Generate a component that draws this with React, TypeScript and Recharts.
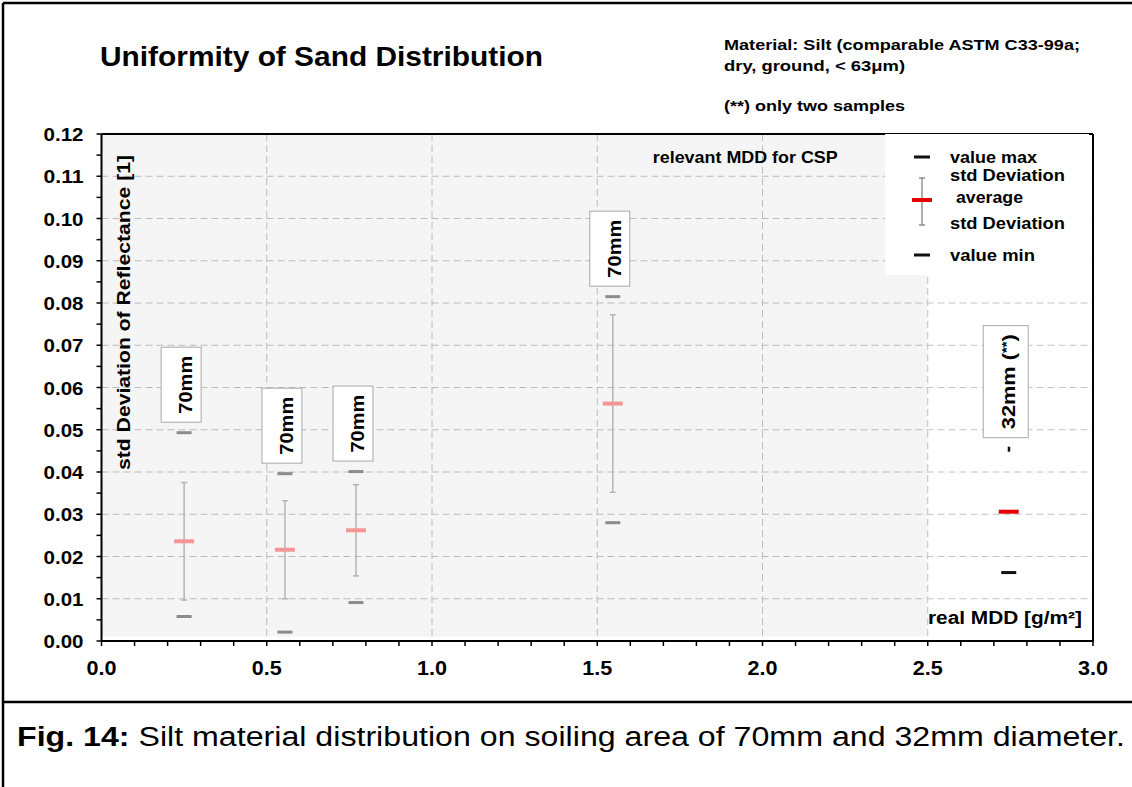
import React from "react";
import {
  CartesianGrid, ComposedChart, ErrorBar, Legend, ReferenceArea, ReferenceLine,
  Scatter, XAxis, YAxis,
} from "recharts";

const FONT = "'Liberation Sans', Arial, Helvetica, sans-serif";

// real MDD [g/m²] of each soiling run
const mdd = [0.25, 0.555, 0.77, 1.547, 2.745];
const valueMax = [0.0493, 0.0396, 0.0401, 0.0815, 0.0454];
const average = [0.0236, 0.0216, 0.0262, 0.0562, 0.0306];
const stdDev = [0.0139, 0.0116, 0.0108, 0.021, null];
const valueMin = [0.0058, 0.0021, 0.0091, 0.028, 0.0162];
const areaLabels = ["70mm", "70mm", "70mm", "70mm", "32mm"];
const twoSamples = [false, false, false, false, true];

const xMajor = [0, 0.5, 1, 1.5, 2, 2.5, 3];
const yMajor = [0, 0.01, 0.02, 0.03, 0.04, 0.05, 0.06, 0.07, 0.08, 0.09, 0.1, 0.11, 0.12];
const xGrid = xMajor.slice(1, -1);
const yGrid = yMajor.slice(1, -1);

// minor ticks: 0.1 on x, half steps on y
const xTicks = Array.from({ length: 31 }, (_, i) => Number((i * 0.1).toFixed(1)));
const yTicks = Array.from({ length: 25 }, (_, i) => Number((i * 0.005).toFixed(3)));

const rows = mdd.map((x, i) => ({
  x, max: valueMax[i], avg: average[i], std: stdDev[i], min: valueMin[i],
  label: areaLabels[i], two: twoSamples[i],
}));
const maxPts = rows.map((r) => ({ ...r, y: r.max }));
const minPts = rows.map((r) => ({ ...r, y: r.min }));
const avgPts = rows.map((r) => ({ ...r, y: r.avg }));
const errPts = rows.filter((r) => r.std != null).map((r) => ({ x: r.x, y: r.avg, err: r.std }));

const GREY = "#8c8c8c";
const PINK = "#f59595";
const ERR = "#b4b4b4";
const DARK = "#111111";
const RED = "#e60000";

function Txt({ x, y, w, size, bold = true, anchor = "start", rotate, children }: any) {
  return (
    <text
      x={x} y={y} fontFamily={FONT} fontSize={size} fontWeight={bold ? 700 : 400}
      textAnchor={anchor} textLength={w} lengthAdjust="spacingAndGlyphs" fill="#000"
      transform={rotate ? `rotate(${rotate} ${x} ${y})` : undefined}
    >
      {children}
    </text>
  );
}

const isMajor = (v: number, step: number) => Math.abs(v / step - Math.round(v / step)) < 1e-6;

const YTick = (p: any) => {
  const v = p.payload.value;
  if (!isMajor(v, 0.01)) return <g />;
  return <Txt x={p.x - 11} y={p.y + 7} size={19} w={40} anchor="end">{v.toFixed(2)}</Txt>;
};

const XTick = (p: any) => {
  const v = p.payload.value;
  if (!isMajor(v, 0.5)) return <g />;
  return <Txt x={p.x} y={p.y + 27} size={20} w={30} anchor="middle">{v.toFixed(1)}</Txt>;
};

const MaxShape = (p: any) => {
  const { cx, cy, payload } = p;
  const two = payload.two;
  const textLen = two ? 95 : 58;
  const boxH = textLen + 17;
  const boxW = two ? 45 : 40;
  const markTop = two ? cy - 2.5 : cy - 1.5;
  const bx = cx - 3 - boxW / 2;
  const by = markTop - 9 - boxH;
  const tx = bx + boxW / 2 + (two ? 9 : 11);
  const ty = by + boxH / 2;
  return (
    <g>
      {two
        ? <rect x={cx - 1} y={cy - 2.5} width={2.5} height={5} fill={DARK} />
        : <rect x={cx - 7.5} y={cy - 1.5} width={15} height={3} fill={GREY} />}
      <rect x={bx} y={by} width={boxW} height={boxH} fill="#fff" stroke="#a8a8a8" strokeWidth={1} />
      <Txt x={tx} y={ty} size={19} w={textLen} anchor="middle" rotate={-90}>
        {payload.label}
        {two ? " (" : ""}
        {two ? <tspan fontSize={13} dy={-4}>**</tspan> : null}
        {two ? <tspan dy={4}>)</tspan> : null}
      </Txt>
    </g>
  );
};

const MinShape = (p: any) => (
  <rect x={p.cx - 7.5} y={p.cy - 1.5} width={15} height={3} fill={p.payload.two ? DARK : GREY} />
);

const AvgShape = (p: any) => (
  <rect x={p.cx - 10} y={p.cy - 2} width={20} height={4} fill={p.payload.two ? RED : PINK} />
);

const LegendBox = () => (
  <svg width={204} height={141} style={{ display: "block", background: "#fff" }}>
    <rect x={29} y={21.5} width={16} height={3} fill={DARK} />
    <Txt x={65} y={29} size={16} w={87}>value max</Txt>
    <Txt x={65} y={47} size={16} w={115}>std Deviation</Txt>
    <line x1={37} y1={44} x2={37} y2={91} stroke="#777" strokeWidth={1.2} />
    <line x1={34} y1={44} x2={40} y2={44} stroke="#777" strokeWidth={1.2} />
    <line x1={34} y1={91} x2={40} y2={91} stroke="#777" strokeWidth={1.2} />
    <rect x={27} y={64} width={20} height={4} fill={RED} />
    <Txt x={71} y={69} size={16} w={67}>average</Txt>
    <Txt x={65} y={95} size={16} w={115}>std Deviation</Txt>
    <rect x={29} y={119.5} width={16} height={3} fill={DARK} />
    <Txt x={65} y={127} size={16} w={85}>value min</Txt>
  </svg>
);

const none = () => <g />;

export default function App() {
  return (
    <div style={{ position: "absolute", left: 0, top: 0, width: 1132, height: 787, background: "#fff" }}>
      <ComposedChart
        width={1132} height={787}
        margin={{ top: 134, right: 39, bottom: 106, left: 41.5 }}
      >
        <ReferenceArea
          x1={0} x2={2.5} y1={0.001} y2={0.12}
          fill="#000" fillOpacity={0.04} stroke="none"
          label={{
            content: ({ viewBox }: any) => (
              <Txt x={viewBox.x + viewBox.width - 90} y={viewBox.y + 29} size={17} w={185} anchor="end">
                relevant MDD for CSP
              </Txt>
            ),
          }}
        />
        <CartesianGrid
          stroke="#c4c4c4" strokeDasharray="7 4"
          horizontalValues={yGrid} verticalValues={xGrid}
        />
        <XAxis
          type="number" dataKey="x" domain={[0, 3]} ticks={xTicks} interval={0}
          height={40} tick={XTick} tickSize={5}
          tickLine={{ stroke: "#000", strokeWidth: 1.5 }}
          axisLine={{ stroke: "#000", strokeWidth: 2 }}
          label={{
            content: ({ viewBox }: any) => (
              <Txt x={viewBox.x + viewBox.width - 11} y={viewBox.y - 17} size={18} w={154} anchor="end">
                real MDD [g/m²]
              </Txt>
            ),
          }}
        />
        <YAxis
          type="number" dataKey="y" domain={[0, 0.12]} ticks={yTicks} interval={0}
          width={60} tick={YTick} tickSize={5}
          tickLine={{ stroke: "#000", strokeWidth: 1.5 }}
          axisLine={{ stroke: "#000", strokeWidth: 2 }}
          label={{
            content: ({ viewBox }: any) => (
              <Txt x={viewBox.x + viewBox.width + 28.5} y={viewBox.y + viewBox.height - 171} size={18} w={315} rotate={-90}>
                std Deviation of Reflectance [1]
              </Txt>
            ),
          }}
        />
        <ReferenceLine y={0.12} stroke="#000" strokeWidth={2} />
        <ReferenceLine x={3} stroke="#000" strokeWidth={2} />
        <Legend
          layout="vertical" align="center" verticalAlign="middle"
          content={LegendBox}
          wrapperStyle={{ left: 885, top: 134, width: 204, height: 141 }}
        />
        <Scatter data={errPts} shape={none} isAnimationActive={false}>
          <ErrorBar dataKey="err" direction="y" width={3} stroke={ERR} strokeWidth={1.5} />
        </Scatter>
        <Scatter data={maxPts} shape={MaxShape} isAnimationActive={false} />
        <Scatter data={minPts} shape={MinShape} isAnimationActive={false} />
        <Scatter data={avgPts} shape={AvgShape} isAnimationActive={false} />
      </ComposedChart>

      <svg width={1132} height={787} style={{ position: "absolute", left: 0, top: 0, pointerEvents: "none" }}>
        <line x1={3} y1={3} x2={1132} y2={3} stroke="#000" strokeWidth={2.5} />
        <line x1={3} y1={3} x2={3} y2={787} stroke="#000" strokeWidth={2.5} />
        <line x1={3} y1={702} x2={1132} y2={702} stroke="#000" strokeWidth={2.5} />
        <Txt x={100} y={66} size={27} w={443}>Uniformity of Sand Distribution</Txt>
        <Txt x={724} y={50} size={15} w={356}>Material: Silt (comparable ASTM C33-99a;</Txt>
        <Txt x={724} y={71} size={15} w={181}>dry, ground, &lt; 63μm)</Txt>
        <Txt x={724} y={111} size={15} w={181}>(**) only two samples</Txt>
        <text x={17} y={746} fontFamily={FONT} fontSize={27} textLength={1108} lengthAdjust="spacingAndGlyphs">
          <tspan fontWeight={700}>Fig. 14:</tspan>
          <tspan fontWeight={400}>{"  Silt material distribution on soiling area of 70mm and 32mm diameter."}</tspan>
        </text>
      </svg>
    </div>
  );
}
